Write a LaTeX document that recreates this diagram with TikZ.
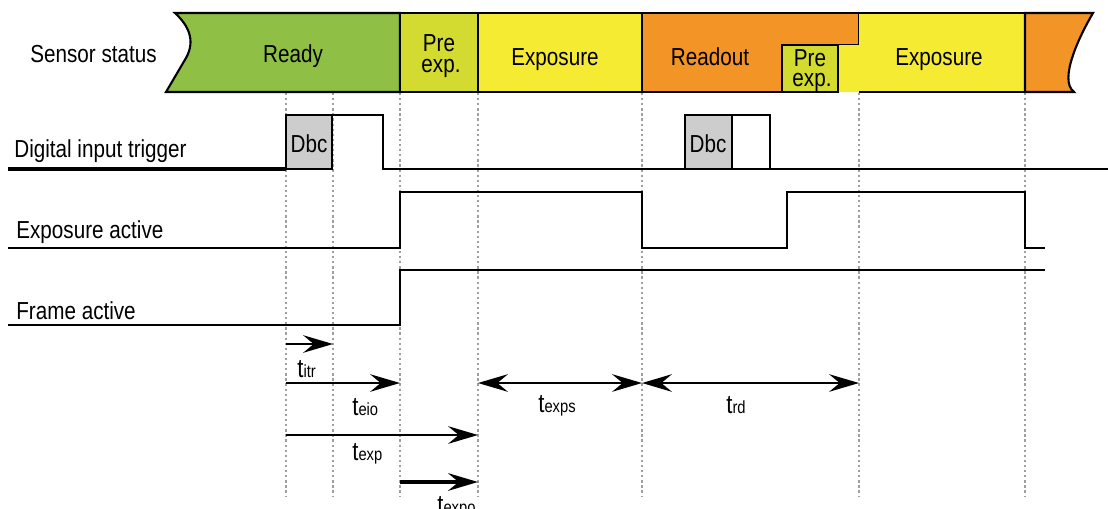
\documentclass[tikz,border=0pt]{standalone}
\usepackage{fontspec}
\setmainfont{Liberation Sans}[FakeStretch=0.84]
\usepackage{xcolor}
\usepackage{tikz}
\usetikzlibrary{arrows.meta, positioning, calc}
\definecolor{readygreen}{HTML}{8FBF45}
\definecolor{preexp}{HTML}{D3DA30}
\definecolor{expyellow}{HTML}{F6EB33}
\definecolor{readorange}{HTML}{F29426}
\definecolor{dbcgray}{HTML}{CDCDCD}
\tikzstyle{arrow} = [line width=1.1pt,-{Stealth[length=17pt,width=10pt,inset=6pt]}]
\tikzstyle{dblarrow} = [line width=1.1pt,{Stealth[length=17pt,width=10pt,inset=6pt]}-{Stealth[length=17pt,width=10pt,inset=6pt]}]
\tikzstyle{dotline} = [gray!75, line width=1pt, dash pattern=on 1.3pt off 1.6pt]
\tikzstyle{signal} = [line width=0.95pt, line join=miter]
\tikzstyle{statebar} = [draw=black, line width=1.2pt, line join=miter]
\tikzstyle{lbl} = [font=\fontsize{14}{14}\selectfont, inner sep=0pt, anchor=base]
\tikzstyle{tlbl} = [font=\fontsize{15}{15}\selectfont, inner sep=0pt, anchor=base west]
\newcommand{\tsub}[1]{t{\fontsize{10}{10}\selectfont #1}}

\begin{document}
\begin{tikzpicture}[x=0.02cm, y=-0.02cm]
    \useasboundingbox (0,0) rectangle (1108,508);

    % Time marks
    \foreach \x in {286, 333, 400, 478, 642, 859, 1025} {
        \draw[dotline] (\x, 93) -- (\x, 496);
    }

    % Sensor status
    \draw[statebar, fill=readygreen] (175,13) .. controls (188,25) and (196,40) .. (186,58)
        -- (166,92) -- (400,92) -- (400,13) -- cycle;
    \draw[statebar, fill=preexp] (400,13) rectangle (478,92);
    \draw[statebar, fill=expyellow] (478,13) rectangle (642,92);
    \draw[statebar, fill=readorange] (642,13) -- (859,13) -- (859,45) -- (782,45)
        -- (782,92) -- (642,92) -- cycle;
    \fill[expyellow] (859,13) -- (1025,13) -- (1025,92) -- (838,92) -- (838,45) -- (859,45) -- cycle;
    \draw[statebar] (859,13) -- (1025,13) -- (1025,92) -- (859,92);
    \draw[statebar, fill=preexp] (782,45) rectangle (838,92);
    \draw[statebar, fill=readorange] (1025,13) -- (1093,13) .. controls (1080,35) and (1058,80) .. (1074,92)
        -- (1025,92) -- cycle;

    \node[lbl, anchor=base west] (sensor) at (30,62) {Sensor status};
    \node[lbl] (ready) at (293,62) {Ready};
    \node[lbl] (preA) at (439,51) {Pre};
    \node[lbl] (expA) at (441,72) {exp.};
    \node[lbl] (exposureA) at (555,65) {Exposure};
    \node[lbl] (readout) at (710,65) {Readout};
    \node[lbl] (preB) at (810,66) {Pre};
    \node[lbl] (expB) at (812,86) {exp.};
    \node[lbl] (exposureB) at (939,65) {Exposure};

    % Digital input trigger
    \draw[line width=1.9pt] (8,169) -- (286,169);
    \draw[signal] (286,115) -- (383,115) -- (383,169) -- (1108,169);
    \draw[statebar, fill=dbcgray] (286,169) rectangle (332,115);
    \draw[signal] (685,169) -- (685,115) -- (770,115) -- (770,169);
    \draw[statebar, fill=dbcgray] (685,169) rectangle (732,115);
    \node[lbl] (dbcA) at (309,152) {Dbc};
    \node[lbl] (dbcB) at (708,152) {Dbc};
    \node[lbl, anchor=base west] (trigger) at (14,157) {Digital input trigger};

    % Exposure active
    \draw[signal] (8,248) -- (400,248) -- (400,192) -- (642,192) -- (642,248) -- (787,248)
        -- (787,192) -- (1025,192) -- (1025,248) -- (1045,248);
    \node[lbl, anchor=base west] (expactive) at (16,238) {Exposure active};

    % Frame active
    \draw[signal] (8,325) -- (400,325) -- (400,270) -- (1045,270);
    \node[lbl, anchor=base west] (frameactive) at (16,319) {Frame active};

    % Timings
    \coordinate (itrS) at (286,344);
    \coordinate (itrE) at (333,344);
    \coordinate (eioS) at (286,383);
    \coordinate (eioE) at (400,383);
    \coordinate (expS) at (286,435);
    \coordinate (expE) at (478,435);
    \coordinate (expoS) at (400,482);
    \coordinate (expoE) at (478,482);
    \coordinate (expsS) at (478,383);
    \coordinate (expsE) at (642,383);
    \coordinate (rdE) at (859,383);

    \draw[arrow] (itrS) -- (itrE);
    \draw[arrow] (eioS) -- (eioE);
    \draw[arrow] (expS) -- (expE);
    \draw[arrow, line width=2.2pt] (expoS) -- (expoE);
    \draw[dblarrow] (expsS) -- (expsE);
    \draw[dblarrow] (expsE) -- (rdE);

    \node[tlbl] (titr) at (297,377) {\tsub{itr}};
    \node[tlbl] (teio) at (352,415) {\tsub{eio}};
    \node[tlbl] (texp) at (352,460) {\tsub{exp}};
    \node[tlbl] (texpo) at (437,513) {\tsub{expo}};
    \node[tlbl] (texps) at (538,412) {\tsub{exps}};
    \node[tlbl] (trd) at (726,413) {\tsub{rd}};
\end{tikzpicture}
\end{document}
